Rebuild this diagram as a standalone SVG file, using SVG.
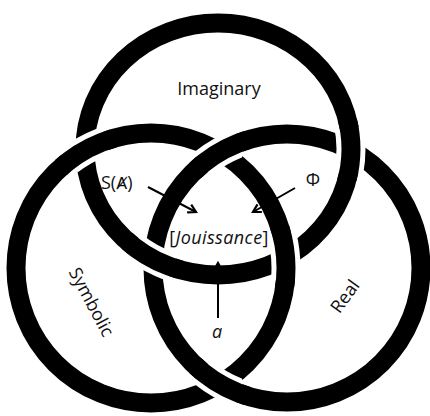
<svg xmlns="http://www.w3.org/2000/svg" xmlns:xlink="http://www.w3.org/1999/xlink" width="430" height="416" viewBox="0 0 430 416">
  <style>
    .ring { fill: none; stroke: #000; stroke-width: 19; }
    .casing { fill: none; stroke: #fff; stroke-width: 29; }
    .lbl { font-family: "Open Sans", "Noto Sans", "Liberation Sans", sans-serif; font-size: 18px; fill: #111; }
    .it { font-style: italic; }
    .arrow { fill: none; stroke: #000; stroke-width: 2; marker-end: url(#head); }
  </style>
  <defs>
    <ellipse id="rT" cx="218" cy="149" rx="133" ry="126"/>
    <circle id="rL" cx="151" cy="268" r="135"/>
    <circle id="rR" cx="287" cy="268" r="134"/>
    <marker id="head" viewBox="0 0 10 10" refX="8" refY="5" markerWidth="5.5" markerHeight="5.5" orient="auto" markerUnits="strokeWidth">
      <path d="M1,1 L8,5 L1,9" fill="none" stroke="#000" stroke-width="2"/>
    </marker>
    <clipPath id="cLT1"><circle cx="85" cy="149" r="24"/></clipPath>
    <clipPath id="cLT2"><circle cx="285" cy="257" r="24"/></clipPath>
    <clipPath id="cTR1"><circle cx="351" cy="150" r="24"/></clipPath>
    <clipPath id="cTR2"><circle cx="152" cy="258" r="24"/></clipPath>
    <clipPath id="cRL1"><circle cx="219" cy="151" r="24"/></clipPath>
    <clipPath id="cRL2"><circle cx="219" cy="385" r="24"/></clipPath>
    <clipPath id="kLT1"><circle cx="85" cy="149" r="32"/></clipPath>
    <clipPath id="kLT2"><circle cx="285" cy="257" r="32"/></clipPath>
    <clipPath id="kTR1"><circle cx="351" cy="150" r="32"/></clipPath>
    <clipPath id="kTR2"><circle cx="152" cy="258" r="32"/></clipPath>
    <clipPath id="kRL1"><circle cx="219" cy="151" r="32"/></clipPath>
    <clipPath id="kRL2"><circle cx="219" cy="385" r="32"/></clipPath>
  </defs>
  <rect width="430" height="416" fill="#fff"/>

  <g id="imaginary">
    <use xlink:href="#rT" href="#rT" class="ring"/>
    <text class="lbl" x="219" y="95" text-anchor="middle">Imaginary</text>
  </g>
  <g id="symbolic">
    <use xlink:href="#rL" href="#rL" class="ring"/>
    <text class="lbl" x="0" y="0" text-anchor="middle" transform="translate(86,305) rotate(62)">Symbolic</text>
  </g>
  <g id="real">
    <use xlink:href="#rR" href="#rR" class="ring"/>
    <text class="lbl" x="0" y="0" text-anchor="middle" transform="translate(350,300) rotate(-54)">Real</text>
  </g>

  <g id="crossings">
    <use xlink:href="#rL" href="#rL" class="casing" clip-path="url(#cLT1)"/>
    <use xlink:href="#rL" href="#rL" class="ring" clip-path="url(#kLT1)"/>
    <use xlink:href="#rL" href="#rL" class="casing" clip-path="url(#cLT2)"/>
    <use xlink:href="#rL" href="#rL" class="ring" clip-path="url(#kLT2)"/>
    <use xlink:href="#rT" href="#rT" class="casing" clip-path="url(#cTR1)"/>
    <use xlink:href="#rT" href="#rT" class="ring" clip-path="url(#kTR1)"/>
    <use xlink:href="#rT" href="#rT" class="casing" clip-path="url(#cTR2)"/>
    <use xlink:href="#rT" href="#rT" class="ring" clip-path="url(#kTR2)"/>
    <use xlink:href="#rR" href="#rR" class="casing" clip-path="url(#cRL1)"/>
    <use xlink:href="#rR" href="#rR" class="ring" clip-path="url(#kRL1)"/>
    <use xlink:href="#rR" href="#rR" class="casing" clip-path="url(#cRL2)"/>
    <use xlink:href="#rR" href="#rR" class="ring" clip-path="url(#kRL2)"/>
  </g>

  <g id="SA">
    <text class="lbl" x="101" y="189">S(<tspan font-family="DejaVu Sans, sans-serif" font-size="16">Ⱥ</tspan>)</text>
  </g>
  <g id="Phi">
    <text class="lbl" x="313" y="186" text-anchor="middle">Φ</text>
  </g>
  <g id="a">
    <text class="lbl it" x="217" y="338" text-anchor="middle">a</text>
  </g>
  <g id="jouissance">
    <text class="lbl" x="219" y="244" text-anchor="middle" font-size="20" letter-spacing="0.4">[<tspan class="it">Jouissance</tspan>]</text>
  </g>

  <g id="connectors">
    <line class="arrow" x1="148" y1="187" x2="196" y2="212"/>
    <line class="arrow" x1="295" y1="188" x2="253" y2="212"/>
    <line class="arrow" x1="218" y1="318" x2="218" y2="263"/>
  </g>
</svg>
